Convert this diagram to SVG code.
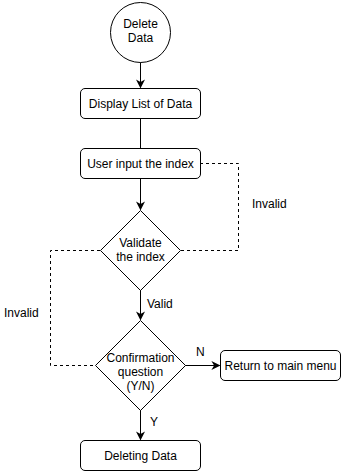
<svg xmlns="http://www.w3.org/2000/svg" width="341" height="471" viewBox="0 0 341 471">
  <style>
    .shape { fill: #ffffff; stroke: #000000; stroke-width: 1; }
    .lbl { font-family: "Liberation Sans", Arial, sans-serif; font-size: 12px; fill: #000000; }
    .mid { text-anchor: middle; }
    .edge { fill: none; stroke: #000000; stroke-width: 1; }
    .dash { stroke-dasharray: 3 3; }
  </style>
  <defs>
    <marker id="arrow" viewBox="0 0 10 10" refX="9" refY="5" markerWidth="9" markerHeight="9" markerUnits="userSpaceOnUse" orient="auto">
      <path d="M0,0 L10,5 L0,10 L3,5 Z" fill="#000000"/>
    </marker>
  </defs>
  <rect width="341" height="471" fill="#ffffff"/>

  <g id="connectors">
    <path class="edge" d="M140.5,62 L140.5,87.5" marker-end="url(#arrow)"/>
    <path class="edge" d="M140.5,118 L140.5,148"/>
    <path class="edge" d="M140.5,178 L140.5,209.5" marker-end="url(#arrow)"/>
    <path class="edge dash" d="M200,163.5 L238.5,163.5 L238.5,250.5 L180,250.5"/>
    <path class="edge" d="M140.5,290 L140.5,319.5" marker-end="url(#arrow)"/>
    <path class="edge dash" d="M100,250.5 L50.5,250.5 L50.5,365.5 L95,365.5"/>
    <path class="edge" d="M185,365.5 L219.5,365.5" marker-end="url(#arrow)"/>
    <path class="edge" d="M140.5,410 L140.5,439.5" marker-end="url(#arrow)"/>
    <text class="lbl" x="252" y="208">Invalid</text>
    <text class="lbl" x="147" y="308">Valid</text>
    <text class="lbl" x="4" y="317">Invalid</text>
    <text class="lbl" x="196" y="356">N</text>
    <text class="lbl" x="150" y="426">Y</text>
  </g>

  <g id="start">
    <circle class="shape" cx="140.5" cy="32.5" r="30"/>
    <text class="lbl mid" x="140.5" y="28">Delete</text>
    <text class="lbl mid" x="140.5" y="42">Data</text>
  </g>

  <g id="display-list">
    <rect class="shape" x="80.5" y="88.5" width="120" height="30" rx="4.5"/>
    <text class="lbl mid" x="140.5" y="107.5">Display List of Data</text>
  </g>

  <g id="user-input">
    <rect class="shape" x="80.5" y="148.5" width="120" height="30" rx="4.5"/>
    <text class="lbl mid" x="140.5" y="167.5">User input the index</text>
  </g>

  <g id="validate">
    <polygon class="shape" points="140.5,210.5 180.5,250.5 140.5,290.5 100.5,250.5"/>
    <text class="lbl mid" x="140.5" y="246.5">Validate</text>
    <text class="lbl mid" x="140.5" y="260.5">the index</text>
  </g>

  <g id="confirm">
    <polygon class="shape" points="140.5,320.5 185.5,365.5 140.5,410.5 95.5,365.5"/>
    <text class="lbl mid" x="140.5" y="361.5">Confirmation</text>
    <text class="lbl mid" x="140.5" y="375.5">question</text>
    <text class="lbl mid" x="140.5" y="389.5">(Y/N)</text>
  </g>

  <g id="return-menu">
    <rect class="shape" x="220.5" y="350.5" width="120" height="30" rx="4.5"/>
    <text class="lbl mid" x="280.5" y="369.5">Return to main menu</text>
  </g>

  <g id="deleting">
    <rect class="shape" x="80.5" y="440.5" width="120" height="30" rx="4.5"/>
    <text class="lbl mid" x="140.5" y="459.5">Deleting Data</text>
  </g>
</svg>
